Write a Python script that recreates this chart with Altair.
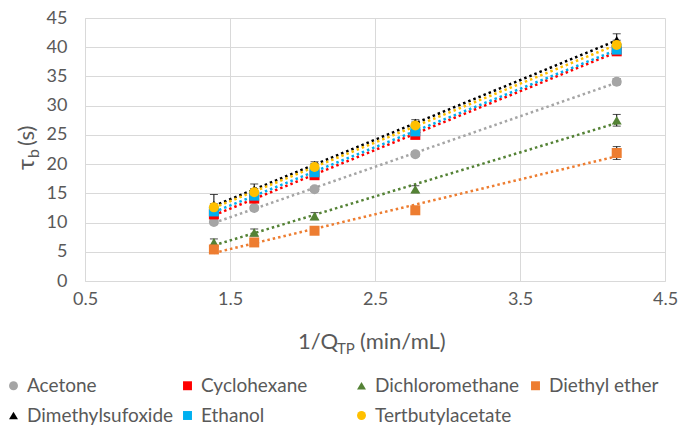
import altair as alt
import pandas as pd

x_vals = [1.389, 1.667, 2.083, 2.778, 4.167]
series = ["Acetone", "Cyclohexane", "Dichloromethane", "Diethyl ether",
          "Dimethylsufoxide", "Ethanol", "Tertbutylacetate"]
acetone = [10.1, 12.5, 15.7, 21.7, 34.1]
cyclohexane = [11.4, 14.1, 18.1, 25.0, 39.3]
dichloromethane = [6.6, 8.3, 11.1, 15.7, 27.5]
diethyl_ether = [5.4, 6.6, 8.6, 12.1, 21.9]
dimethylsufoxide = [13.0, 15.6, 19.8, 27.0, 41.2]
ethanol = [11.9, 14.6, 18.6, 25.6, 39.6]
tertbutylacetate = [12.6, 15.2, 19.5, 26.6, 40.4]

acetone_err = [0.4, 0.4, 0.4, 0.4, 0.5]
cyclohexane_err = [0.5, 0.5, 0.5, 0.5, 0.5]
dichloromethane_err = [0.6, 0.6, 0.6, 0.6, 1.0]
diethyl_ether_err = [0.5, 0.5, 0.4, 0.4, 1.1]
dimethylsufoxide_err = [1.8, 1.0, 0.6, 0.6, 1.1]
ethanol_err = [0.5, 0.5, 0.5, 0.5, 0.5]
tertbutylacetate_err = [0.6, 0.6, 0.6, 0.6, 0.8]

colors = ["#A5A5A5", "#FF0000", "#548235", "#ED7D31", "#000000", "#00B0F0", "#FFC000"]
shapes = ["circle", "square", "triangle-up", "square", "triangle-up", "square", "circle"]

x_ticks = [0.5, 1.5, 2.5, 3.5, 4.5]
y_ticks = [0, 5, 10, 15, 20, 25, 30, 35, 40, 45]

values = [acetone, cyclohexane, dichloromethane, diethyl_ether,
          dimethylsufoxide, ethanol, tertbutylacetate]
errors = [acetone_err, cyclohexane_err, dichloromethane_err, diethyl_ether_err,
          dimethylsufoxide_err, ethanol_err, tertbutylacetate_err]

rows = []
for i, (name, vals, errs) in enumerate(zip(series, values, errors)):
    for xv, yv, ev in zip(x_vals, vals, errs):
        rows.append({"series": name, "order": i, "x": xv, "y": yv,
                     "lo": yv - ev, "hi": yv + ev})
df = pd.DataFrame(rows)

# legend lays entries out column by column (2 rows), so interleave the domain
leg_idx = [0, 4, 1, 5, 2, 6, 3]
leg_domain = [series[i] for i in leg_idx]
leg_colors = [colors[i] for i in leg_idx]
leg_shapes = [shapes[i] for i in leg_idx]

FONT = "Lato"
GRID = "#D9D9D9"
TXT = "#595959"

xscale = alt.Scale(domain=[0.5, 4.5], nice=False, zero=False)
yscale = alt.Scale(domain=[0, 45], nice=False)
cscale = alt.Scale(domain=leg_domain, range=leg_colors)
sscale = alt.Scale(domain=leg_domain, range=leg_shapes)
tscale = alt.Scale(domain=series, range=colors)

xaxis = alt.Axis(values=x_ticks, format=".1f", grid=True, gridColor=GRID,
                 domainColor=GRID, ticks=False, labelPadding=9,
                 labelFontSize=18, labelColor=TXT, labelFont=FONT,
                 labelFlush=False, labelOverlap=False)
yaxis = alt.Axis(values=y_ticks, grid=True, gridColor=GRID,
                 domainColor=GRID, ticks=False, labelPadding=18,
                 labelFontSize=18, labelColor=TXT, labelFont=FONT,
                 labelOverlap=False, labelFlush=False)


def X(field):
    return alt.X(field, type="quantitative", scale=xscale, title=None, axis=xaxis)


def Y(field):
    return alt.Y(field, type="quantitative", scale=yscale, title=None, axis=yaxis)


base = alt.Chart(df)

lines = base.transform_regression(
    "x", "y", groupby=["series"], extent=[x_vals[0], x_vals[-1]]
).transform_calculate(
    trend="datum.series"
).mark_line(strokeWidth=2.5, strokeDash=[2.5, 3], clip=False).encode(
    x=X("x"),
    y=Y("y"),
    stroke=alt.Stroke("trend:N", scale=tscale, legend=None),
    detail="trend:N",
)

err_rule = base.mark_rule(color="#000000", strokeWidth=1).encode(
    x=X("x"), y=Y("lo"), y2="hi:Q",
)
cap_lo = base.mark_tick(color="#000000", orient="horizontal", size=8, thickness=1).encode(
    x=X("x"), y=Y("lo"),
)
cap_hi = base.mark_tick(color="#000000", orient="horizontal", size=8, thickness=1).encode(
    x=X("x"), y=Y("hi"),
)

legend = alt.Legend(title=None, orient="none", legendX=-81, legendY=358,
                    columns=4, gridAlign="all",
                    columnPadding=4, rowPadding=10, symbolSize=80,
                    symbolStrokeWidth=0, labelFontSize=19, labelColor=TXT,
                    labelFont=FONT, labelLimit=300)

points = base.mark_point(filled=True, size=100, opacity=1).encode(
    x=X("x"),
    y=Y("y"),
    color=alt.Color("series:N", scale=cscale, legend=legend),
    shape=alt.Shape("series:N", scale=sscale, legend=legend),
    order="order:Q",
)


def txt(text, x, y, size, angle=0, align="left"):
    return alt.Chart(df).transform_filter("datum.order == 0 && datum.x < 1.5").mark_text(
        text=text, fontSize=size, font=FONT, color=TXT, align=align,
        baseline="alphabetic", angle=angle
    ).encode(x=alt.value(x), y=alt.value(y))


xt1 = txt("1/Q", 213, 331, 22)
xt2 = txt("TP", 252, 336, 15)
xt3 = txt("(min/mL)", 275, 331, 22)
yt1 = txt("τ", -51, 152, 24, angle=270)
yt2 = txt("b", -46, 140, 16, angle=270)
yt3 = txt("(s)", -51, 128, 22, angle=270)

chart = alt.layer(
    lines, err_rule, cap_lo, cap_hi, points, xt1, xt2, xt3, yt1, yt2, yt3
).properties(
    width=580, height=263,
    autosize=alt.AutoSizeParams(type="none"),
    padding={"left": 85, "top": 18, "right": 16, "bottom": 147},
).configure_view(stroke=None)

chart.save("out.html", embed_options={"renderer": "svg", "actions": False})
